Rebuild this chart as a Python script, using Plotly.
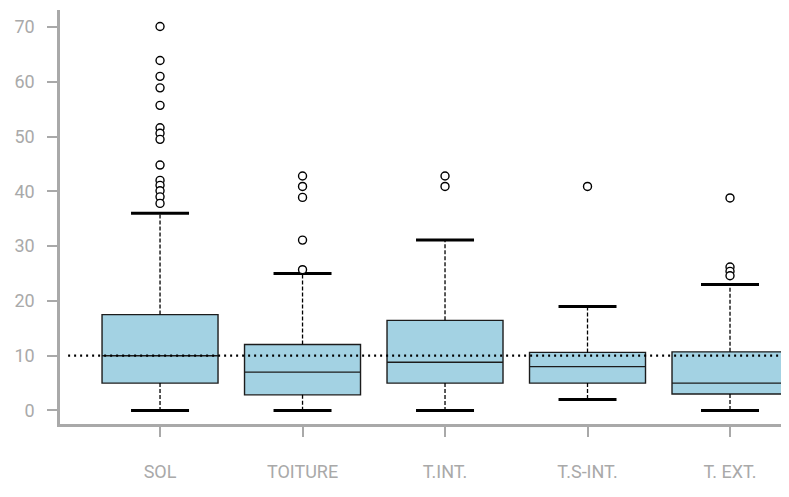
import plotly.graph_objects as go

categories = ["SOL", "TOITURE", "T.INT.", "T.S-INT.", "T. EXT."]
q1 = [5.0, 2.85, 5.0, 5.0, 3.0]
median = [10.0, 7.0, 8.8, 8.0, 5.0]
q3 = [17.5, 12.05, 16.45, 10.6, 10.7]
lower_whisker = [0.0, 0.0, 0.0, 2.0, 0.0]
upper_whisker = [36.0, 25.0, 31.1, 19.0, 23.0]
outliers = [
    [70.1, 63.9, 61.0, 58.9, 55.7, 51.6, 50.6, 49.5, 44.8, 42.0, 41.1, 40.1, 39.0, 37.8],
    [42.8, 40.9, 38.9, 31.1, 25.7],
    [42.8, 40.9],
    [40.9],
    [38.8, 26.2, 25.4, 24.6],
]
reference_value = 10

positions = list(range(len(categories)))
BOX_W = 0.814
CAP_HALF = 0.2035
FILL = "#a3d2e3"
EDGE = "#1c1c1c"
GRAY = "#a9a9a9"

fig = go.Figure()

# whiskers (dashed)
wx, wy = [], []
for i in positions:
    wx += [i, i, None, i, i, None]
    wy += [q3[i], upper_whisker[i], None, q1[i], lower_whisker[i], None]
fig.add_trace(go.Scatter(x=wx, y=wy, mode="lines",
                         line=dict(color="black", width=1.3, dash="4px,2px"),
                         hoverinfo="skip", showlegend=False))

# boxes
fig.add_trace(go.Box(x=positions, q1=q1, median=median, q3=q3,
                     lowerfence=q1, upperfence=q3, boxpoints=False,
                     width=BOX_W, whiskerwidth=0, fillcolor=FILL,
                     line=dict(color=EDGE, width=1.4), showlegend=False))

# caps
cx, cy = [], []
for i in positions:
    cx += [i - CAP_HALF, i + CAP_HALF, None, i - CAP_HALF, i + CAP_HALF, None]
    cy += [upper_whisker[i], upper_whisker[i], None, lower_whisker[i], lower_whisker[i], None]
fig.add_trace(go.Scatter(x=cx, y=cy, mode="lines",
                         line=dict(color="black", width=3),
                         hoverinfo="skip", showlegend=False))

# reference dotted line
fig.add_trace(go.Scatter(x=[-0.645, 4.6], y=[reference_value, reference_value], mode="lines",
                         line=dict(color="black", width=2.2, dash="2px,4px"),
                         hoverinfo="skip", showlegend=False))

# outliers
ox, oy = [], []
for i in positions:
    for v in outliers[i]:
        ox.append(i)
        oy.append(v)
fig.add_trace(go.Scatter(x=ox, y=oy, mode="markers",
                         marker=dict(symbol="circle", size=8, color="white",
                                     line=dict(color="black", width=1.4)),
                         showlegend=False))

fig.update_layout(
    width=781, height=481,
    margin=dict(l=52, r=0, t=2, b=65),
    paper_bgcolor="white", plot_bgcolor="white",
    font=dict(family="Roboto, 'Noto Sans', sans-serif", size=18, color=GRAY),
    xaxis=dict(range=[-0.702, 4.414], tickmode="array", tickvals=positions,
               ticktext=categories, showgrid=False, zeroline=False,
               showline=True, linecolor=GRAY, linewidth=2.5,
               ticks="outside", ticklen=10, tickwidth=2, tickcolor=GRAY,
               ticklabelstandoff=20),
    yaxis=dict(range=[-2.47, 73.11], tickmode="array",
               tickvals=[0, 10, 20, 30, 40, 50, 60, 70],
               showgrid=False, zeroline=False,
               showline=True, linecolor=GRAY, linewidth=2.5,
               ticks="outside", ticklen=10, tickwidth=2, tickcolor=GRAY,
               ticklabelstandoff=9),
)

fig.write_html("out.html")
